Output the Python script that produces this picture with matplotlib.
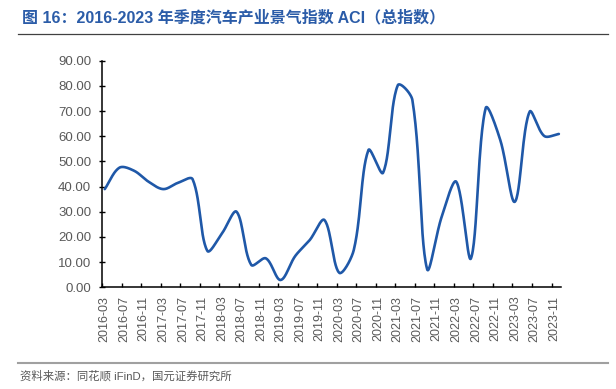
import numpy as np
import matplotlib.pyplot as plt
from matplotlib.lines import Line2D

plt.rcParams['font.family'] = ['Liberation Sans', 'Noto Sans CJK SC', 'DejaVu Sans']

# quarterly ACI readings, 2016Q1 .. 2023Q4
quarters = ["2016-03", "2016-06", "2016-09", "2016-12",
            "2017-03", "2017-06", "2017-09", "2017-12",
            "2018-03", "2018-06", "2018-09", "2018-12",
            "2019-03", "2019-06", "2019-09", "2019-12",
            "2020-03", "2020-06", "2020-09", "2020-12",
            "2021-03", "2021-06", "2021-09", "2021-12",
            "2022-03", "2022-06", "2022-09", "2022-12",
            "2023-03", "2023-06", "2023-09", "2023-12"]
aci = [39.0, 47.5, 46.3, 41.9, 39.0, 41.5, 42.9, 14.5,
       21.4, 30.0, 8.9, 11.5, 2.9, 12.4, 18.8, 26.7,
       5.8, 14.8, 54.5, 45.5, 80.2, 74.4, 7.3, 28.0,
       41.9, 11.5, 71.1, 58.5, 34.0, 69.7, 60.1, 60.9]

tick_labels = ["2016-03", "2016-07", "2016-11", "2017-03", "2017-07", "2017-11",
               "2018-03", "2018-07", "2018-11", "2019-03", "2019-07", "2019-11",
               "2020-03", "2020-07", "2020-11", "2021-03", "2021-07", "2021-11",
               "2022-03", "2022-07", "2022-11", "2023-03", "2023-07", "2023-11"]

PX_X = 459 / 94    # px per month
PX_Y = 226.6 / 90  # px per index point


def month_index(s):
    y, m = s.split('-')
    return (int(y) - 2016) * 12 + int(m) - 3


def smooth(x, y, n=30):
    # excel-like smoothed line, worked out in pixel space
    pts = np.column_stack([np.array(x) * PX_X, np.array(y) * PX_Y])
    P = np.vstack([pts[0], pts, pts[-1]])
    t = np.linspace(0, 1, n)[:, None]
    out = []
    for i in range(len(pts) - 1):
        p0, p1, p2, p3 = P[i], P[i + 1], P[i + 2], P[i + 3]
        d01 = np.hypot(*(p1 - p0))
        d12 = np.hypot(*(p2 - p1))
        d23 = np.hypot(*(p3 - p2))
        w1 = d12 / (d01 + d12) if d01 + d12 > 0 else 0.5
        w2 = d12 / (d12 + d23) if d12 + d23 > 0 else 0.5
        c1 = p1 + (p2 - p0) * w1 / 3
        c2 = p2 - (p3 - p1) * w2 / 3
        seg = (1 - t) ** 3 * p1 + 3 * (1 - t) ** 2 * t * c1 + 3 * (1 - t) * t ** 2 * c2 + t ** 3 * p2
        out.append(seg if i == 0 else seg[1:])
    out = np.vstack(out)
    return out[:, 0] / PX_X, out[:, 1] / PX_Y


x = [month_index(q) for q in quarters]
cx, cy = smooth(x, aci)

fig = plt.figure(figsize=(6.16, 3.89), dpi=100)
ax = fig.add_axes([102.3 / 616, 101.7 / 389, 459 / 616, 226.6 / 389])
ax.plot(cx, cy, color='#1f58a8', lw=1.9, solid_capstyle='round')

ax.set_xlim(-0.5, 93.5)
ax.set_ylim(0, 90)
ax.set_yticks(np.arange(0, 91, 10))
ax.set_yticklabels([f"{v:.2f}" for v in np.arange(0, 91, 10)])

label_pos = [month_index(s) for s in tick_labels]
ax.set_xticks([p - 0.5 for p in label_pos])
ax.set_xticklabels([])
ax.set_xticks(label_pos, minor=True)
ax.set_xticklabels(tick_labels, minor=True, rotation=90)
ax.tick_params(axis='x', which='major', direction='in', length=3, width=1)
ax.tick_params(axis='x', which='minor', length=0, pad=6, labelsize=9, labelcolor='#595959')
ax.tick_params(axis='y', direction='inout', length=4, width=1, pad=6, labelsize=9.5, labelcolor='#595959')

for s in ['top', 'right']:
    ax.spines[s].set_visible(False)
for s in ['left', 'bottom']:
    ax.spines[s].set_linewidth(1.1)

fig.text(22 / 616, 1 - 18 / 389, "图 16：2016-2023 年季度汽车产业景气指数 ACI（总指数）",
         fontsize=11.5, fontweight='bold', color='#2b5ca8', va='center', ha='left')
fig.add_artist(Line2D([18 / 616, 608 / 616], [1 - 34 / 389] * 2, color='#404040', lw=0.9))
fig.add_artist(Line2D([18 / 616, 608 / 616], [1 - 363 / 389] * 2, color='#a0a0a0', lw=1.5))
fig.text(20 / 616, 1 - 376 / 389, "资料来源：同花顺 iFinD，国元证券研究所",
         fontsize=8.2, color='#595959', va='center', ha='left')

fig.savefig('out.png', dpi=100)
